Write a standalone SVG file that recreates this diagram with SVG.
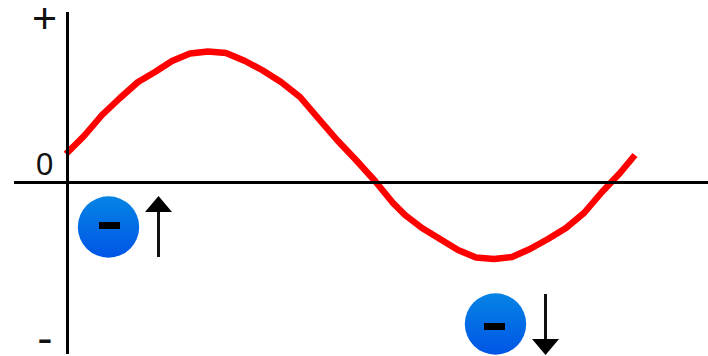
<svg xmlns="http://www.w3.org/2000/svg" width="708" height="356" viewBox="0 0 708 356">
<style>
.axis{stroke:#000;stroke-width:3;fill:none}
.wave{stroke:#f00;stroke-width:6.5;fill:none;stroke-linejoin:round}
.lbl{font-family:"Liberation Sans",Arial,sans-serif;fill:#111;text-anchor:middle}
.shaft{stroke:#111;stroke-width:3;fill:none}
.bar{fill:#000}
.ball{fill:url(#g)}
</style>
<defs>
<linearGradient id="g" x1="0" y1="0" x2="0" y2="1">
<stop offset="0" stop-color="#0584e4"/>
<stop offset="1" stop-color="#0055e6"/>
</linearGradient>
</defs>
<rect width="708" height="356" fill="#fff"/>
<g id="connectors">
<path id="wave" class="wave" d="M66 154L84 136L102 115L120 98L138 82L155 72L172 61L190 53.5L208 51.5L226 53L245 61L262 70L281 82L300 97L318 118L337 140L356 160L375 181L393 203L405 215L422 228L440 239L458 250L476 257.5L494 259L512 257L530 249L548 239L566 228L584 213L602 192L620 173L635 155"/>
<path id="axis-y" class="axis" d="M67.5 12V354"/>
<path id="axis-x" class="axis" d="M14 182.5H708"/>
<g id="arrow-up"><path class="shaft" d="M158.5 257V210"/><path d="M158.5 196L172 212H145Z"/></g>
<g id="arrow-down"><path class="shaft" d="M545.5 294V341"/><path d="M545.5 355L559 339H532Z"/></g>
</g>
<g id="label-plus"><text class="lbl" x="44.5" y="33" font-size="43">+</text></g>
<g id="label-zero"><text class="lbl" x="44.7" y="175" font-size="31">0</text></g>
<g id="label-minus"><text class="lbl" x="45" y="353.5" font-size="46">-</text></g>
<g id="electron-1"><circle class="ball" cx="108.5" cy="227" r="30.7"/><rect class="bar" x="99" y="222" width="21" height="7"/></g>
<g id="electron-2"><circle class="ball" cx="495.5" cy="324" r="30.7"/><rect class="bar" x="484" y="323" width="21" height="7"/></g>
</svg>
